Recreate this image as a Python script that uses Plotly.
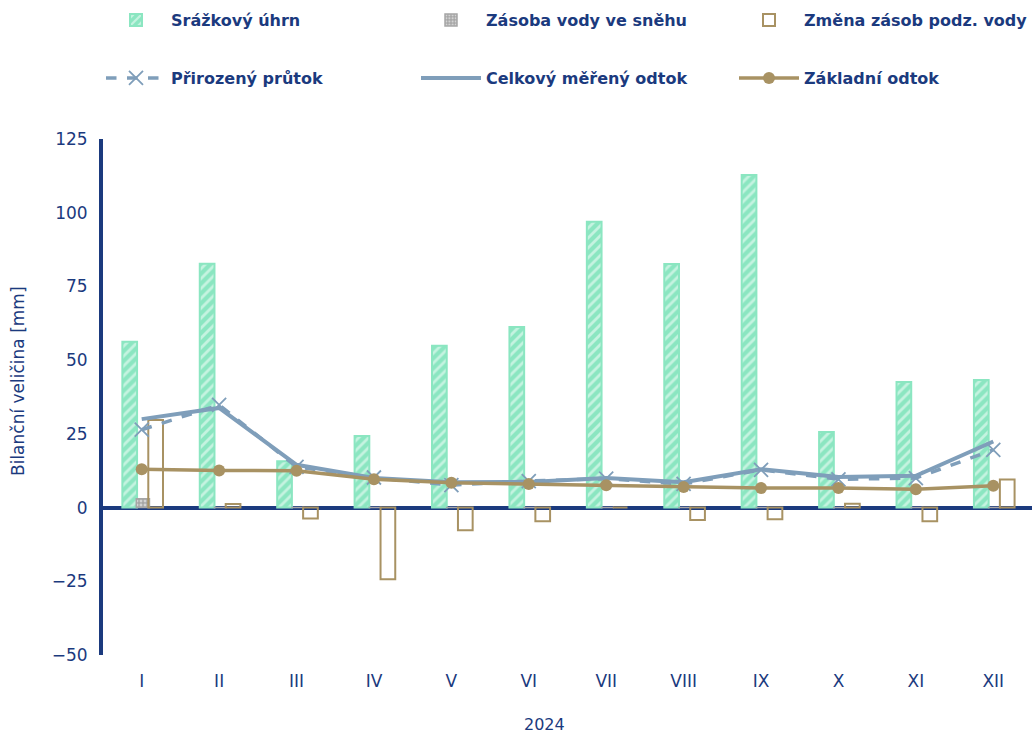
import plotly.graph_objects as go

months = ["I", "II", "III", "IV", "V", "VI", "VII", "VIII", "IX", "X", "XI", "XII"]
srazky = [56.2, 82.7, 15.7, 24.3, 54.9, 61.2, 96.9, 82.6, 112.8, 25.6, 42.6, 43.3]
snih = [3.0, 0, 0, 0, 0, 0, 0, 0, 0, 0, 0, 0]
zmena_podz = [29.7, 1.2, -3.7, -24.3, -7.7, -4.6, 0.0, -4.2, -4.0, 1.3, -4.6, 9.5]
prirozeny = [26.4, 34.8, 13.8, 10.2, 7.6, 9.0, 9.8, 8.0, 12.8, 9.6, 10.0, 19.6]
celkovy = [30.0, 33.8, 14.5, 10.0, 8.6, 8.7, 10.0, 8.6, 13.0, 10.4, 10.8, 22.4]
zakladni = [13.0, 12.6, 12.5, 9.6, 8.4, 8.0, 7.6, 7.0, 6.6, 6.6, 6.2, 7.4]

NAVY = "#1B3A7E"
MINT = "#8BE6C1"
TAN = "#A89263"
BLUEGRAY = "#7F9EBA"
GRAY = "#A6A6A6"
FONT = "DejaVu Sans"

fig = go.Figure()

fig.add_trace(go.Bar(
    x=months, y=srazky, name="Srážkový úhrn", legend="legend",
    width=0.19, offset=-0.25,
    marker=dict(color=MINT, line=dict(color=MINT, width=2),
                pattern=dict(shape="/", fgcolor="white", bgcolor=MINT, size=7, solidity=0.4)),
))
fig.add_trace(go.Bar(
    x=months, y=snih, name="Zásoba vody ve sněhu", legend="legend2",
    width=0.17, offset=-0.07,
    marker=dict(color=GRAY, line=dict(color=GRAY, width=1.5),
                pattern=dict(shape=".", fgcolor="white", bgcolor=GRAY, size=4, solidity=0.4)),
))
fig.add_trace(go.Bar(
    x=months, y=zmena_podz, name="Změna zásob podz. vody", legend="legend3",
    width=0.19, offset=0.085,
    marker=dict(color="rgba(255,255,255,0)", line=dict(color=TAN, width=2)),
))
fig.add_trace(go.Scatter(
    x=months, y=prirozeny, name="Přirozený průtok", legend="legend4",
    mode="lines+markers",
    line=dict(color=BLUEGRAY, width=3.5, dash="dash"),
    marker=dict(symbol="x-thin", size=14, line=dict(color=BLUEGRAY, width=1.8)),
))
fig.add_trace(go.Scatter(
    x=months, y=celkovy, name="Celkový měřený odtok", legend="legend5",
    mode="lines",
    line=dict(color=BLUEGRAY, width=4),
))
fig.add_trace(go.Scatter(
    x=months, y=zakladni, name="Základní odtok", legend="legend6",
    mode="lines+markers",
    line=dict(color=TAN, width=3.5),
    marker=dict(symbol="circle", size=12, color=TAN),
))

legend_common = dict(
    orientation="h", xanchor="left", yanchor="middle",
    xref="container", yref="container",
    font=dict(family=FONT, size=16, color=NAVY, weight="bold"),
    itemwidth=60, bgcolor="rgba(0,0,0,0)",
    itemclick=False, itemdoubleclick=False,
)
col_x = [101, 416, 734]
row_y = [20, 78]

legends = {}
names = ["legend", "legend2", "legend3", "legend4", "legend5", "legend6"]
for i, nm in enumerate(names):
    legends[nm] = dict(x=col_x[i % 3] / 1032, y=1 - row_y[i // 3] / 733, **legend_common)

fig.update_layout(
    width=1032, height=733,
    margin=dict(l=103, r=0, t=139, b=78),
    paper_bgcolor="white", plot_bgcolor="white",
    barmode="overlay",
    hovermode=False,
    font=dict(family=FONT, size=17, color=NAVY),
    showlegend=True,
    xaxis=dict(
        automargin=False,
        showgrid=False, showline=False, zeroline=False,
        ticks="", ticklabelstandoff=14,
        tickfont=dict(family=FONT, size=17, color=NAVY),
        range=[-0.5, 11.5],
    ),
    yaxis=dict(
        automargin=False,
        range=[-50, 125], dtick=25, tick0=0,
        showgrid=False, showline=True, linecolor=NAVY, linewidth=4,
        zeroline=True, zerolinecolor=NAVY, zerolinewidth=4,
        ticks="", ticklabelstandoff=8,
        tickfont=dict(family=FONT, size=17, color=NAVY),
    ),
    annotations=[
        dict(text="Bilanční veličina [mm]", textangle=-90, showarrow=False,
             xref="paper", yref="paper", x=(18 - 103) / 929, y=(655 - 381) / 516,
             xanchor="center", yanchor="middle",
             font=dict(family=FONT, size=17, color=NAVY)),
        dict(text="2024", showarrow=False,
             xref="paper", yref="paper", x=(544 - 103) / 929, y=(655 - 724) / 516,
             xanchor="center", yanchor="middle",
             font=dict(family=FONT, size=16, color=NAVY)),
    ],
    **legends,
)

fig.write_html("out.html", config={"displayModeBar": False},
               post_script="document.body.style.margin='0';")
